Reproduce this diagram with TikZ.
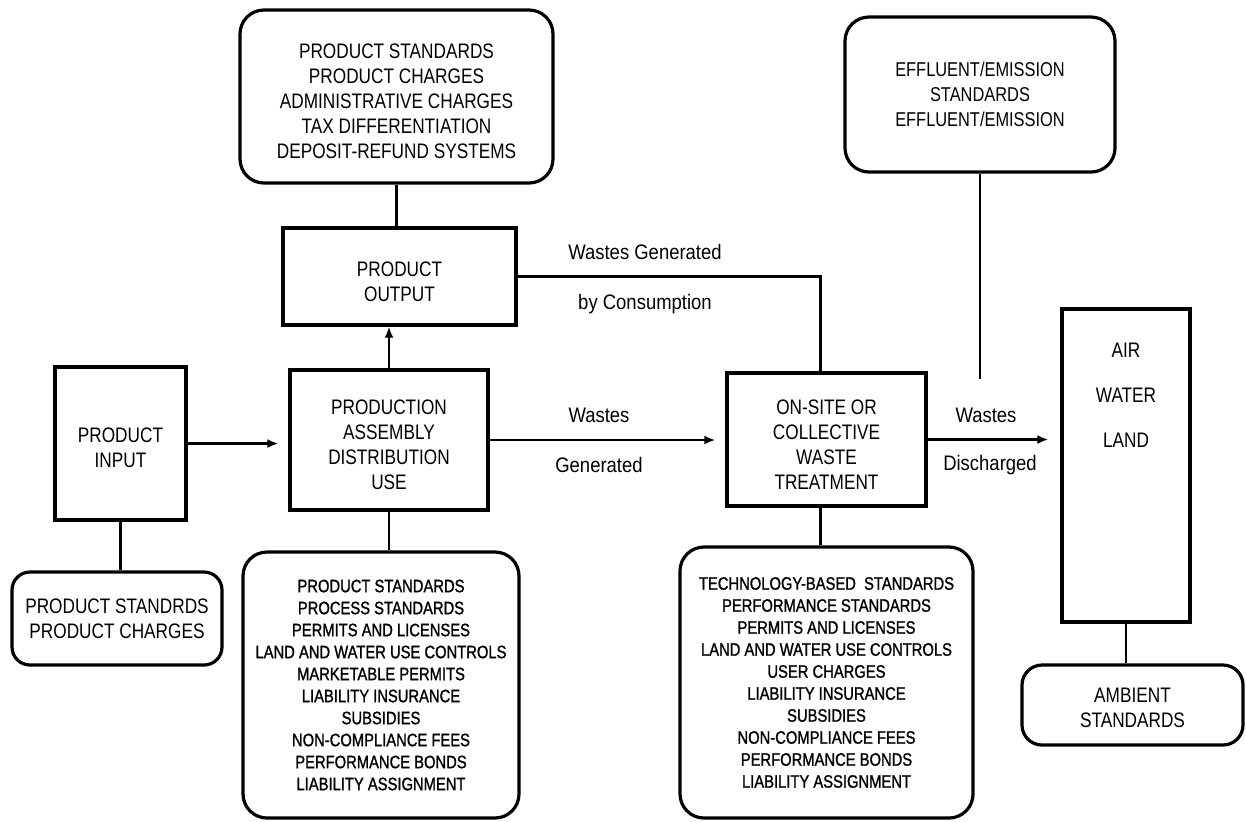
\documentclass[tikz,border=0pt]{standalone}
\usepackage{fontspec}
\setmainfont{Liberation Sans}[FakeStretch=0.82]
\newfontfamily\lblfont{Liberation Sans}[FakeStretch=0.88]
\newfontfamily\listfont{Liberation Sans}[FakeStretch=0.82,FakeBold=1.2]
\usetikzlibrary{arrows.meta,fit}
\newcommand\mainsz{\fontsize{10.5pt}{12.5pt}\selectfont}
\newcommand\effsz{\fontsize{10pt}{12.5pt}\selectfont}
\newcommand\listsz{\listfont\fontsize{9pt}{11pt}\selectfont}
\tikzset{
  box/.style={draw, line width=1.6pt, inner sep=0pt},
  rbox/.style={box, rounded corners=12pt},
  txt/.style={inner sep=0pt, align=center, font=\mainsz},
  ltxt/.style={txt, font=\listsz},
  conn/.style={line width=1.2pt},
  arr/.style={conn, -{Latex[length=5.5pt,width=4.5pt]}},
  lbl/.style={font=\lblfont\mainsz, inner sep=0pt},
}
\begin{document}
\begin{tikzpicture}[x=0.5pt,y=-0.5pt]
\useasboundingbox (0,0) rectangle (1246,821);
% boxes
\node[rbox, fit={(240,10) (553,183)}] (T1) {};
\node[txt] (T1t) at ([yshift=-2.5pt]T1.center) {PRODUCT STANDARDS\\PRODUCT CHARGES\\ADMINISTRATIVE CHARGES\\TAX DIFFERENTIATION\\DEPOSIT-REFUND SYSTEMS};
\node[box, fit={(283,228) (516,325)}] (PO) {};
\node[txt] (POt) at ([yshift=-2.5pt]PO.center) {PRODUCT\\OUTPUT};
\node[rbox, fit={(845,17) (1115,172)}] (T2) {};
\node[txt, font=\effsz] (T2t) at (T2.center) {EFFLUENT/EMISSION\\STANDARDS\\EFFLUENT/EMISSION};
\node[box, fit={(55,367) (186,520)}] (PI) {};
\node[txt] (PIt) at ([yshift=-2pt]PI.center) {PRODUCT\\INPUT};
\node[box, fit={(290,370) (488,510)}] (PR) {};
\node[txt] (PRt) at ([yshift=-2.5pt]PR.center) {PRODUCTION\\ASSEMBLY\\DISTRIBUTION\\USE};
\node[box, fit={(727,373) (926,506)}] (OS) {};
\node[txt] (OSt) at ([yshift=-2.5pt]OS.center) {ON-SITE OR\\COLLECTIVE\\WASTE\\TREATMENT};
\node[box, fit={(1062,309) (1190,622)}] (AW) {};
\node[txt] (air) at (1126,350) {AIR};
\node[txt] (water) at (1126,395) {WATER};
\node[txt] (land) at (1126,440) {LAND};
\node[rbox, rounded corners=9pt, fit={(12,572) (222,665)}] (PS) {};
\node[txt] (PSt) at (PS.center) {PRODUCT STANDRDS\\PRODUCT CHARGES};
\node[rbox, fit={(243,552) (519,818)}] (L1) {};
\node[ltxt] (L1t) at (L1.center) {PRODUCT STANDARDS\\PROCESS STANDARDS\\PERMITS AND LICENSES\\LAND AND WATER USE CONTROLS\\MARKETABLE PERMITS\\LIABILITY INSURANCE\\SUBSIDIES\\NON-COMPLIANCE FEES\\PERFORMANCE BONDS\\LIABILITY ASSIGNMENT};
\node[rbox, fit={(680,547) (973,818)}] (L2) {};
\node[ltxt] (L2t) at (L2.center) {TECHNOLOGY-BASED\ \ STANDARDS\\PERFORMANCE STANDARDS\\PERMITS AND LICENSES\\LAND AND WATER USE CONTROLS\\USER CHARGES\\LIABILITY INSURANCE\\SUBSIDIES\\NON-COMPLIANCE FEES\\PERFORMANCE BONDS\\LIABILITY ASSIGNMENT};
\node[rbox, rounded corners=10pt, fit={(1022,665) (1243,745)}] (AM) {};
\node[txt] (AMt) at ([yshift=-1.5pt]AM.center) {AMBIENT\\STANDARDS};
% labels
\node[lbl] (l1) at (645,252) {Wastes Generated};
\node[lbl] (l2) at (645,304) {by Consumption};
\node[lbl] (l3) at (599,415) {Wastes};
\node[lbl] (l4) at (599,465) {Generated};
\node[lbl] (l5) at (986,415) {Wastes};
\node[lbl] (l6) at (990,465) {Discharged};
\coordinate (T2end) at (980,379);
% connectors
\draw[conn] (T1.south) -- (T1.south |- PO.north);
\draw[arr] (PR.north) -- (PR.north |- PO.south);
\draw[conn] (PO.east) -| ([xshift=-3pt]OS.north);
\draw[arr, shorten >=5pt] (PI.east) -- (PR.west |- PI.east);
\draw[arr, shorten >=5pt] (PR.east) -- (OS.west |- PR.east);
\draw[arr, shorten >=6pt] (OS.east) -- (AW.west |- OS.east);
\draw[conn] (T2.south) -- (T2.south |- T2end);
\draw[conn] (PI.south) -- (PI.south |- PS.north);
\draw[conn] (PR.south) -- (PR.south |- L1.north);
\draw[conn] ([xshift=-3pt]OS.south) -- ([xshift=-3pt]OS.south |- L2.north);
\draw[conn] (AW.south) -- (AW.south |- AM.north);
\end{tikzpicture}
\end{document}
